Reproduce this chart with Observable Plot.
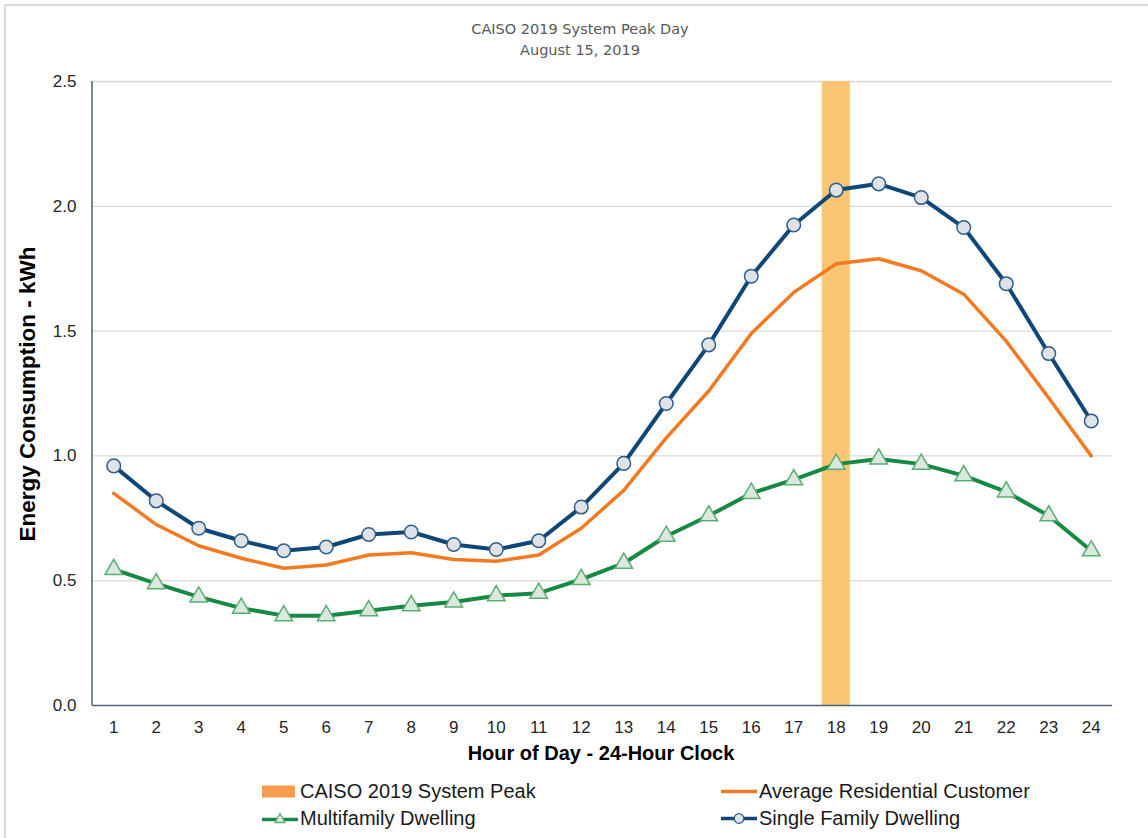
<!DOCTYPE html>
<html>
<head>
<meta charset="utf-8">
<script src="https://cdn.jsdelivr.net/npm/d3@7"></script>
<script src="https://cdn.jsdelivr.net/npm/@observablehq/plot@0.6"></script>
<style>
  html, body { margin: 0; padding: 0; background: #fff; }
  #wrap { position: relative; width: 1148px; height: 838px; overflow: hidden; background: #fff;
          font-family: "Liberation Sans", Arial, sans-serif; }
  #border { position: absolute; left: 4px; top: 4px; right: -10px; bottom: -10px;
            border-left: 2px solid #d9d9d9; border-top: 2px solid #d9d9d9; }
  .abs { position: absolute; white-space: nowrap; }
  .title { font-family: "DejaVu Sans", Verdana, sans-serif; font-size: 14.5px; color: #595959;
           transform: translate(-50%, -50%); }
  .axt { font-weight: bold; font-size: 20px; color: #000; }
  .leg { font-size: 20px; color: #1a1a1a; display: flex; align-items: center; transform: translateY(-50%); }
  .leg svg { margin-right: 2px; }
  #chart { position: absolute; left: 0; top: 0; }
</style>
</head>
<body>
<div id="wrap">
  <div id="border"></div>
  <div class="abs title" style="left:580px; top:29px;">CAISO 2019 System Peak Day</div>
  <div class="abs title" style="left:580px; top:50px;">August 15, 2019</div>
  <div id="chart"></div>
  <div class="abs axt" style="left:601px; top:753px; transform: translate(-50%, -50%);">Hour of Day - 24-Hour Clock</div>
  <div class="abs axt" style="left:28px; top:394px; font-size:22.5px; transform: translate(-50%, -50%) rotate(-90deg);">Energy Consumption - kWh</div>
  <div id="legend"></div>
</div>
<script>
// ---- Data ----
const hours = [1, 2, 3, 4, 5, 6, 7, 8, 9, 10, 11, 12, 13, 14, 15, 16, 17, 18, 19, 20, 21, 22, 23, 24];
const singleFamily = [0.96, 0.82, 0.71, 0.66, 0.62, 0.635, 0.685, 0.695, 0.645, 0.625, 0.66, 0.795,
                      0.97, 1.21, 1.445, 1.72, 1.925, 2.065, 2.09, 2.035, 1.915, 1.69, 1.41, 1.14];
const averageResidential = [0.85, 0.725, 0.64, 0.59, 0.55, 0.563, 0.603, 0.612, 0.585, 0.578, 0.603, 0.71,
                            0.862, 1.072, 1.26, 1.49, 1.655, 1.77, 1.79, 1.742, 1.648, 1.46, 1.232, 1.0];
const multifamily = [0.545, 0.488, 0.435, 0.39, 0.36, 0.36, 0.38, 0.4, 0.415, 0.44, 0.45, 0.505,
                     0.57, 0.678, 0.76, 0.85, 0.905, 0.967, 0.988, 0.967, 0.921, 0.856, 0.76, 0.62];
const peakHours = [18];
const yDomain = [0, 2.5];
const gridValues = [0.5, 1.0, 1.5, 2.0, 2.5];
const seriesNames = ["CAISO 2019 System Peak", "Average Residential Customer", "Multifamily Dwelling", "Single Family Dwelling"];

const colors = {
  peak: "#fac674",
  peakLegend: "#f79b4c",
  average: "#f47a22",
  multi: "#168a44",
  multiFill: "#dbe8dd",
  multiStroke: "#5cad74",
  single: "#0f4778",
  singleFill: "#dfe3e8",
  singleStroke: "#2f5e8a"
};

const toRows = (vals) => hours.map((h, i) => ({hour: h, value: vals[i]}));
const singleRows = toRows(singleFamily);
const avgRows = toRows(averageResidential);
const multiRows = toRows(multifamily);

const chart = Plot.plot({
  width: 1148,
  height: 770,
  marginLeft: 92,
  marginRight: 36,
  marginTop: 81,
  marginBottom: 65,
  style: {fontFamily: '"Liberation Sans", Arial, sans-serif', fontSize: "17px", color: "#262626", background: "transparent"},
  x: {type: "band", domain: hours, paddingInner: 0.34, paddingOuter: 0.17, round: false, tickSize: 0, tickPadding: 15, label: null},
  y: {domain: yDomain, ticks: 5, tickFormat: d3.format(".1f"), tickSize: 0, tickPadding: 16, label: null},
  marks: [
    Plot.ruleY(gridValues, {stroke: "#d9d9d9", strokeWidth: 1.3}),
    Plot.barY(peakHours, {x: d => d, y1: yDomain[0], y2: yDomain[1], fill: colors.peak}),
    Plot.ruleY([0], {stroke: "#4d6177", strokeWidth: 1.5}),
    Plot.line(avgRows, {x: "hour", y: "value", stroke: colors.average, strokeWidth: 3.5}),
    Plot.line(multiRows, {x: "hour", y: "value", stroke: colors.multi, strokeWidth: 4}),
    Plot.dot(multiRows, {x: "hour", y: "value", symbol: "triangle", r: 6.5, fill: colors.multiFill, stroke: colors.multiStroke, strokeWidth: 1.5}),
    Plot.line(singleRows, {x: "hour", y: "value", stroke: colors.single, strokeWidth: 4}),
    Plot.dot(singleRows, {x: "hour", y: "value", r: 6.8, fill: colors.singleFill, stroke: colors.singleStroke, strokeWidth: 1.5})
  ]
});
document.getElementById("chart").appendChild(chart);

// left axis line drawn from the scales
const ys = chart.scale("y");
const xs = chart.scale("x");
d3.select(chart).append("line")
  .attr("x1", xs.range[0]).attr("x2", xs.range[0])
  .attr("y1", ys.range[0]).attr("y2", ys.range[1])
  .attr("stroke", "#4d6177").attr("stroke-width", 1.5);

// ---- Legend ----
const legendSwatch = {
  [seriesNames[0]]: `<svg width="36" height="14"><rect x="0" y="1" width="33" height="12" fill="${colors.peakLegend}"/></svg>`,
  [seriesNames[1]]: `<svg width="36" height="14"><line x1="0" y1="7" x2="36" y2="7" stroke="${colors.average}" stroke-width="3.5"/></svg>`,
  [seriesNames[2]]: `<svg width="36" height="14"><line x1="0" y1="8" x2="36" y2="8" stroke="${colors.multi}" stroke-width="3.5"/><path d="M18,2 L23,11 L13,11 Z" fill="${colors.multiFill}" stroke="${colors.multiStroke}" stroke-width="1.3"/></svg>`,
  [seriesNames[3]]: `<svg width="36" height="14"><line x1="0" y1="7" x2="36" y2="7" stroke="${colors.single}" stroke-width="3.5"/><circle cx="18" cy="7" r="4.8" fill="${colors.singleFill}" stroke="${colors.singleStroke}" stroke-width="1.3"/></svg>`
};
const legendPos = [
  {left: 262, top: 791}, {left: 721, top: 791},
  {left: 262, top: 818}, {left: 721, top: 818}
];
const legend = document.getElementById("legend");
seriesNames.forEach((name, i) => {
  const d = document.createElement("div");
  d.className = "abs leg";
  d.style.left = legendPos[i].left + "px";
  d.style.top = legendPos[i].top + "px";
  d.innerHTML = legendSwatch[name] + `<span>${name}</span>`;
  legend.appendChild(d);
});
</script>
</body>
</html>
